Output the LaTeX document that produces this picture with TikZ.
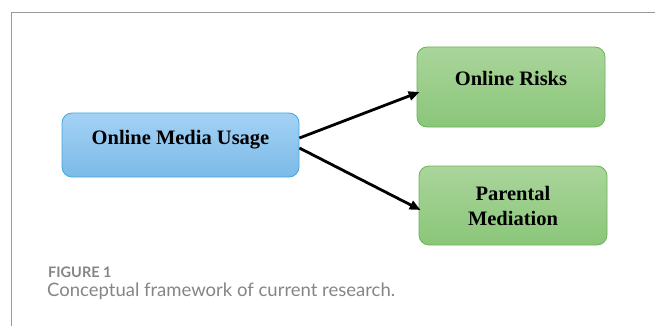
\documentclass[tikz,border=0pt]{standalone}
\usepackage{fontspec}
\setmainfont{Liberation Serif}
\newfontfamily\capfont{Lato}
\usetikzlibrary{arrows.meta}
\definecolor{frameline}{HTML}{9A9A9A}
\definecolor{captiongray}{HTML}{858585}
\definecolor{bluetop}{HTML}{A4D2F5}
\definecolor{bluebot}{HTML}{7BBAE8}
\definecolor{blueedge}{HTML}{45A6DF}
\definecolor{greentop}{HTML}{AAD59B}
\definecolor{greenbot}{HTML}{8AC679}
\definecolor{greenedge}{HTML}{6CB35A}
\tikzset{
  conceptbox/.style={draw, line width=0.8pt, rounded corners=10pt, inner sep=0pt,
    align=center, font=\fontsize{20.5}{25}\selectfont\bfseries},
  bluebox/.style={conceptbox, draw=blueedge, top color=bluetop, bottom color=bluebot},
  greenbox/.style={conceptbox, draw=greenedge, top color=greentop, bottom color=greenbot},
  link/.style={line width=2.8pt, -{Triangle[length=11pt,width=9pt]}},
}
\begin{document}
\begin{tikzpicture}[x=1pt,y=-1pt]
  \useasboundingbox (0,0) rectangle (655,326);
  % page frame
  \draw[frameline, line width=1pt] (11.5,326) -- (11.5,12.5) -- (655,12.5);
  % concept boxes
  \node[bluebox, minimum width=237pt, minimum height=64pt, text height=14pt, text depth=16pt]
    (usage) at (180.5,145) {Online Media Usage};
  \node[greenbox, minimum width=188pt, minimum height=80pt, text height=14pt, text depth=16pt]
    (risks) at (511,87) {Online Risks};
  \node[greenbox, minimum width=188pt, minimum height=79pt]
    (mediation) at (513,205.5) {Parental\\Mediation};
  % relations
  \draw[link] ([yshift=7pt]usage.east) -- ([xshift=3pt,yshift=-5pt]risks.west);
  \draw[link] ([yshift=-3pt]usage.east) -- ([xshift=2pt,yshift=-4.5pt]mediation.west);
  % caption
  \node[anchor=base west, inner sep=0pt, text=captiongray, font=\capfont\bfseries\fontsize{14.5}{16}\selectfont]
    (figlabel) at (48,277) {FIGURE 1};
  \node[anchor=base west, inner sep=0pt, text=captiongray, font=\capfont\fontsize{18.5}{20}\selectfont]
    (figtitle) at (47,296) {Conceptual framework of current research.};
\end{tikzpicture}
\end{document}
